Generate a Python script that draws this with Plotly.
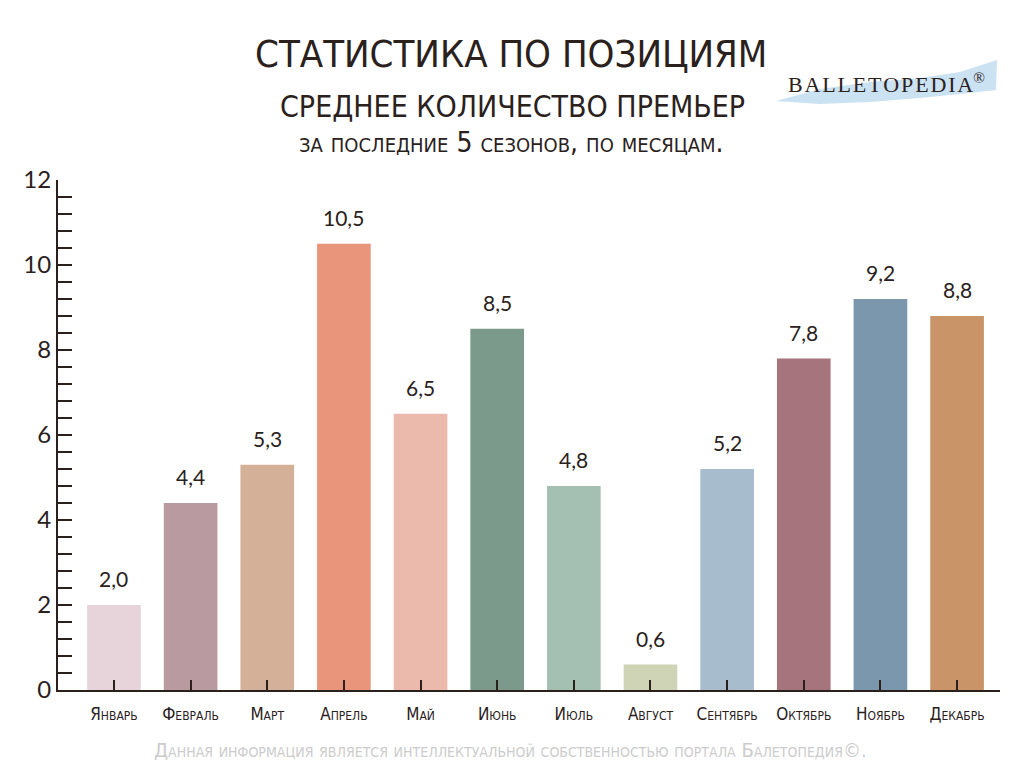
import plotly.graph_objects as go

months = ["Январь", "Февраль", "Март", "Апрель", "Май", "Июнь",
          "Июль", "Август", "Сентябрь", "Октябрь", "Ноябрь", "Декабрь"]
premieres = [2.0, 4.4, 5.3, 10.5, 6.5, 8.5, 4.8, 0.6, 5.2, 7.8, 9.2, 8.8]
bar_colors = ["#e7d3da", "#b89aa0", "#d4b099", "#e9957c", "#ecbaad", "#7b9a8c",
              "#a3c0b3", "#d0d4b7", "#a7bdcd", "#a5747c", "#7a97ae", "#c99568"]

# page body has an 8px margin, so the figure is a bit smaller and shifted
OFF = 8
W, H = 1024 - OFF, 768 - OFF
L, R, T, B = 58 - OFF, 24, 180 - OFF, 78
ink = "#2a211c"
title_font = "Liberation Sans Narrow, DejaVu Sans Condensed, Noto Sans, sans-serif"
num_font = "Lato, Open Sans, sans-serif"


def px(x, y):
    # screen pixel -> paper coords
    x, y = x - OFF, y - OFF
    return (x - L) / (W - L - R), (H - B - y) / (H - T - B)


fig = go.Figure(go.Bar(
    x=months, y=premieres,
    marker=dict(color=bar_colors, line=dict(width=0)),
    width=0.7, hoverinfo="x+y",
))

# value labels above bars
for m, v in zip(months, premieres):
    fig.add_annotation(x=m, y=v, text=("%.1f" % v).replace(".", ","),
                       showarrow=False, yanchor="bottom", yshift=12,
                       font=dict(family=num_font, size=21, color=ink))

fig.update_xaxes(
    range=[-0.73, 11.56], showline=True, linecolor=ink, linewidth=2,
    ticks="inside", ticklen=10, tickwidth=2, tickcolor=ink,
    tickfont=dict(family=title_font, size=17, color=ink, variant="small-caps"),
    ticklabelstandoff=8,
    showgrid=False, zeroline=False, fixedrange=True, automargin=False,
)
fig.update_yaxes(
    range=[0, 12], dtick=2, showline=True, linecolor=ink, linewidth=2,
    ticks="inside", ticklen=14, tickwidth=2, tickcolor=ink,
    minor=dict(dtick=0.4, ticks="inside", ticklen=14, tickwidth=2, tickcolor=ink),
    tickfont=dict(family=num_font, size=24, color=ink),
    showgrid=False, zeroline=False, fixedrange=True, automargin=False,
)

# logo swoosh
pts = [(776, 101), (820, 89), (870, 82), (920, 78), (960, 72), (997, 60),
       (996, 90), (960, 94), (920, 98), (870, 102), (820, 104), (776, 101)]
path = "M " + " L ".join("%.4f,%.4f" % px(x, y) for x, y in pts) + " Z"
fig.add_shape(type="path", path=path, xref="paper", yref="paper",
              fillcolor="#cbe2f2", line=dict(width=0), layer="below")

def ann(text, x, y, size, family, color=ink, variant="normal", anchor="center"):
    ax, ay = px(x, y)
    fig.add_annotation(text=text, x=ax, y=ay, xref="paper", yref="paper",
                       showarrow=False, xanchor=anchor, yanchor="middle",
                       font=dict(family=family, size=size, color=color, variant=variant))

ann("СТАТИСТИКА ПО ПОЗИЦИЯМ", 511, 54, 38, title_font)
ann("СРЕДНЕЕ КОЛИЧЕСТВО ПРЕМЬЕР", 512, 106, 30, title_font)
ann("за последние 5 сезонов, по месяцам.", 511, 142, 28, title_font, variant="small-caps")
ann("B&#8202;A&#8202;L&#8202;L&#8202;E&#8202;T&#8202;O&#8202;P&#8202;E&#8202;D&#8202;I&#8202;A<sup>®</sup>",
    886, 83, 22, "Liberation Serif, serif")
ann("Данная информация является интеллектуальной собственностью портала Балетопедия©.",
    510, 750, 20, title_font, color="#cccccc", variant="small-caps")

fig.update_layout(
    width=W, height=H, margin=dict(l=L, r=R, t=T, b=B),
    paper_bgcolor="white", plot_bgcolor="white",
    showlegend=False, bargap=0.3,
)

fig.write_html("out.html")
